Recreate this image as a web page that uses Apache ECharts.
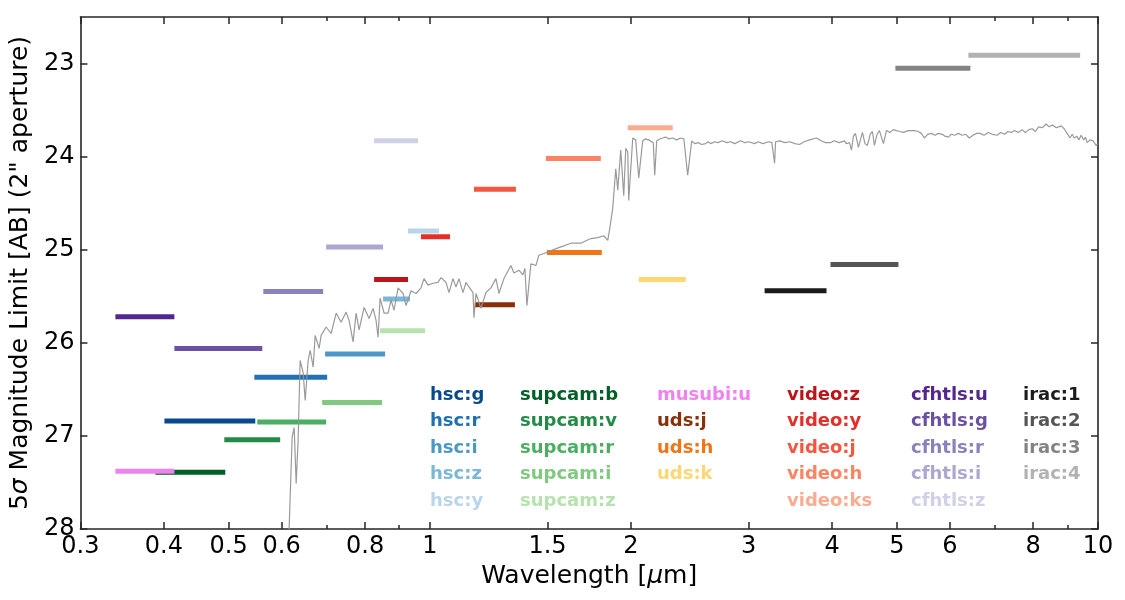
<!DOCTYPE html>
<html><head><meta charset="utf-8">
<script src="https://cdn.jsdelivr.net/npm/echarts@6/dist/echarts.min.js"></script>
<style>html,body{margin:0;padding:0;background:#fff}#chart{width:1125px;height:600px}</style>
</head><body><div id="chart"></div>
<script>
// ---------------- data ----------------
const filterNames = ['hsc:g','hsc:r','hsc:i','hsc:z','hsc:y',
  'supcam:b','supcam:v','supcam:r','supcam:i','supcam:z',
  'musubi:u','uds:j','uds:h','uds:k',
  'video:z','video:y','video:j','video:h','video:ks',
  'cfhtls:u','cfhtls:g','cfhtls:r','cfhtls:i','cfhtls:z',
  'irac:1','irac:2','irac:3','irac:4'];
const filterMinWave = [0.4007,0.5462,0.6971,0.8512,0.9277,
  0.3884,0.4925,0.5518,0.6900,0.8425,
  0.3384,1.1683,1.4968,2.0543,
  0.8253,0.9701,1.1643,1.4916,1.9780,
  0.3384,0.4147,0.5634,0.6996,0.8253,
  3.1699,3.9780,4.9752,6.3976];
const filterMaxWave = [0.5480,0.7020,0.8571,0.9341,1.0322,
  0.4942,0.5971,0.6996,0.8483,0.9836,
  0.4147,1.3408,1.8087,2.4151,
  0.9277,1.0720,1.3454,1.8025,2.3094,
  0.4147,0.5614,0.6924,0.8512,0.9602,
  3.9237,5.0269,6.4418,9.4037];
const filterDepth = [26.84,26.37,26.12,25.53,24.80,
  27.39,27.04,26.85,26.64,25.87,
  27.38,25.59,25.03,25.32,
  25.32,24.86,24.35,24.02,23.69,
  25.72,26.06,25.45,24.97,23.83,
  25.44,25.16,23.05,22.91];

const specWave = [0.6100,0.6159,0.6223,0.6266,0.6309,0.6352,0.6396,0.6463,0.6508,0.6575,0.6621,0.6690,0.6736,0.6829,0.6876,0.6996,
  0.7117,0.7241,0.7366,0.7494,0.7572,0.7677,0.7757,0.7837,0.7973,0.8112,0.8224,0.8309,0.8367,0.8425,0.8541,0.8660,0.8749,0.8840,
  0.8963,0.9118,0.9213,0.9373,0.9536,0.9701,0.9802,0.9938,1.0111,1.0286,1.0393,1.0573,1.0683,1.0831,1.0943,1.1057,1.1211,1.1327,
  1.1444,1.1603,1.1643,1.1724,1.1927,1.2134,1.2345,1.2559,1.2690,1.2910,1.3225,1.3362,1.3594,1.3782,1.3877,1.3973,1.4167,1.4413,
  1.4562,1.4815,1.5176,1.5707,1.6257,1.6826,1.7415,1.7839,1.8212,1.8464,1.8592,1.8785,1.8980,1.9111,1.9309,1.9509,1.9644,1.9780,
  1.9848,2.0123,2.0332,2.0543,2.0828,2.1000,2.1263,2.1410,2.1600,2.1706,2.1856,2.2100,2.2300,2.2544,2.2800,2.3094,2.3400,2.3739,
  2.4000,2.4151,2.4318,2.4655,2.4900,2.5255,2.5500,2.5870,2.6100,2.6319,2.6700,2.7000,2.7400,2.7812,2.8200,2.8600,2.9186,2.9600,
  3.0000,3.0627,3.1000,3.1500,3.2136,3.2500,3.2808,3.2922,3.3400,3.4000,3.4545,3.5200,3.5754,3.6300,3.7000,3.7911,3.8500,3.9100,
  3.9780,4.0300,4.1000,4.1742,4.2000,4.2465,4.2759,4.3050,4.3350,4.3800,4.4406,4.4800,4.5177,4.5600,4.5963,4.6281,4.6700,4.7085,
  4.7739,4.8234,4.8800,4.9400,4.9923,5.0500,5.1141,5.2000,5.3109,5.3800,5.4402,5.4966,5.5600,5.6300,5.7000,5.7678,5.8500,5.9000,
  5.9697,6.0300,6.1000,6.1800,6.2640,6.3400,6.4167,6.5000,6.5800,6.6645,6.7500,6.8500,6.9500,7.0659,7.1500,7.2500,7.3300,7.4145,
  7.5000,7.6000,7.7000,7.7829,7.8800,7.9722,8.0600,8.1500,8.2500,8.3655,8.4500,8.5500,8.6586,8.7300,8.8086,8.9000,8.9925,9.0800,
  9.1500,9.2118,9.3000,9.3600,9.4362,9.5200,9.5800,9.6330,9.7300,9.8343,9.9363,10.000];
const specMag = [28.60,27.98,27.01,26.91,27.51,27.05,26.19,26.32,26.62,26.19,26.08,26.26,25.92,26.06,25.92,25.83,
  25.90,25.68,25.78,25.67,25.76,25.99,25.68,25.86,25.62,25.74,25.63,25.76,25.94,25.52,25.68,25.68,25.54,25.65,
  25.41,25.47,25.60,25.44,25.47,25.41,25.31,25.38,25.36,25.35,25.30,25.35,25.46,25.31,25.40,25.31,25.46,25.35,
  25.40,25.46,25.73,25.47,25.63,25.46,25.41,25.31,25.47,25.31,25.17,25.25,25.22,25.27,25.20,25.60,25.15,25.17,
  25.06,25.04,25.01,24.97,24.93,24.93,24.88,24.87,24.85,24.90,24.77,24.55,24.13,24.36,23.93,24.42,23.91,23.95,
  24.47,23.80,23.82,24.23,23.83,23.81,23.82,23.83,23.85,24.20,23.83,23.81,23.80,23.79,23.81,23.80,23.82,23.80,
  23.81,23.83,24.20,23.83,23.86,23.85,23.87,23.86,23.84,23.86,23.84,23.85,23.83,23.85,23.84,23.86,23.83,23.85,
  23.84,23.86,23.84,23.86,23.84,23.85,24.07,23.84,23.83,23.85,23.84,23.86,23.87,23.84,23.82,23.80,23.83,23.85,
  23.85,23.83,23.85,23.83,23.86,23.85,23.93,23.78,23.75,23.90,23.74,23.86,23.88,23.76,23.73,23.88,23.76,23.72,
  23.86,23.72,23.74,23.71,23.72,23.73,23.74,23.72,23.72,23.73,23.75,23.80,23.76,23.75,23.77,23.75,23.76,23.78,
  23.79,23.76,23.77,23.75,23.77,23.76,23.80,23.77,23.75,23.75,23.77,23.74,23.76,23.77,23.74,23.76,23.73,23.74,
  23.72,23.74,23.71,23.74,23.71,23.70,23.73,23.68,23.69,23.65,23.68,23.66,23.69,23.68,23.67,23.70,23.75,23.80,
  23.76,23.80,23.78,23.82,23.77,23.82,23.79,23.85,23.82,23.83,23.88,23.86];

const xMajorTicks = [0.3,0.4,0.5,0.6,0.8,1,1.5,2,3,4,5,6,8,10];
const xMinorTicks = [0.7,0.9,7,9];
const yTicks = [23,24,25,26,27,28];
const legendColumns = [
  ['hsc:g','hsc:r','hsc:i','hsc:z','hsc:y'],
  ['supcam:b','supcam:v','supcam:r','supcam:i','supcam:z'],
  ['musubi:u','uds:j','uds:h','uds:k'],
  ['video:z','video:y','video:j','video:h','video:ks'],
  ['cfhtls:u','cfhtls:g','cfhtls:r','cfhtls:i','cfhtls:z'],
  ['irac:1','irac:2','irac:3','irac:4']
];

// ---------------- styles ----------------
const filterColors = ['#08488e','#2070b4','#4a98c9','#7cb7da','#b9d5ea',
  '#005e27','#238b45','#4bae62','#80c97f','#b6e2ae',
  '#ee82ee','#88300a','#ee7518','#fed672',
  '#bb151a','#e32f27','#f5563f','#fc8464','#fcab8e',
  '#54278f','#6b51a3','#8683bd','#aaa8d0','#d0d1e6',
  '#1b1b1b','#555555','#838383','#b2b2b2'];
const legendLeft = [430,520,657,787,911,1023];
const FONT = 'DejaVu Sans';
const AXIS_COLOR = '#262626';

const colorOf = {};
filterNames.forEach((n,i)=>colorOf[n]=filterColors[i]);

const fmt = v => String(parseFloat(Number(v).toPrecision(4)));

function xAxisDef(pos, ticks, len, withLabels, withLine){
  return {
    type:'log', logBase:10, min:0.3, max:10, position:pos,
    axisLine:{show:withLine, onZero:false, lineStyle:{color:AXIS_COLOR,width:1.6}},
    axisTick:{show:true, inside:true, length:len, customValues:ticks, lineStyle:{color:AXIS_COLOR,width:1.5}},
    axisLabel:{show:withLabels, customValues:ticks, formatter:fmt, margin:6,
      color:'#000', fontFamily:FONT, fontSize:24},
    splitLine:{show:false}, minorTick:{show:false}, minorSplitLine:{show:false},
    name: withLabels ? 'Wavelength [{i|μ}m]' : '',
    nameLocation:'middle', nameGap:34,
    nameTextStyle:{color:'#000', fontFamily:FONT, fontSize:25,
      rich:{i:{fontStyle:'italic', fontFamily:FONT, fontSize:25, color:'#000'}}}
  };
}
function yAxisDef(pos, withLabels){
  return {
    type:'value', inverse:true, min:22.5, max:28, position:pos,
    axisLine:{show:true, onZero:false, lineStyle:{color:AXIS_COLOR,width:1.6}},
    axisTick:{show:true, inside:true, length:7, customValues:yTicks, lineStyle:{color:AXIS_COLOR,width:1.5}},
    axisLabel:{show:withLabels, customValues:yTicks, margin:6, color:'#000', fontFamily:FONT, fontSize:24},
    splitLine:{show:false},
    name: withLabels ? '5{i|σ} Magnitude Limit [AB] (2" aperture)' : '',
    nameLocation:'middle', nameGap:30, nameRotate:90,
    nameTextStyle:{color:'#000', fontFamily:FONT, fontSize:25,
      rich:{i:{fontStyle:'italic', fontFamily:FONT, fontSize:25, color:'#000'}}}
  };
}

const series = filterNames.map((n,i)=>({
  name:n, type:'line', xAxisIndex:0, yAxisIndex:0,
  data:[[filterMinWave[i], filterDepth[i]],[filterMaxWave[i], filterDepth[i]]],
  showSymbol:false, symbol:'none', silent:true, animation:false, z:2,
  lineStyle:{color:filterColors[i], width:5, cap:'butt'},
  itemStyle:{color:filterColors[i]}
}));
series.push({
  name:'spectrum', type:'line', xAxisIndex:0, yAxisIndex:0,
  data: specWave.map((w,i)=>[w, specMag[i]]),
  showSymbol:false, symbol:'none', silent:true, animation:false, z:5, clip:true,
  lineStyle:{color:'#959595', width:1.2, opacity:0.95}
});

const legends = legendColumns.map((col,ci)=>({
  orient:'vertical', left:legendLeft[ci]-5, top:386, padding:0,
  itemWidth:0, itemHeight:18, itemGap:8.5, icon:'none', selectedMode:false,
  data: col.map(n=>({name:n, icon:'none', textStyle:{color:colorOf[n]}})),
  textStyle:{fontFamily:FONT, fontWeight:'bold', fontSize:18, lineHeight:18}
}));

const chart = echarts.init(document.getElementById('chart'), null, {renderer:'canvas'});
chart.setOption({
  animation:false,
  backgroundColor:'#fff',
  grid:{left:79, top:17, width:1019, height:512, containLabel:false},
  xAxis:[
    xAxisDef('bottom', xMajorTicks, 7, true, true),
    xAxisDef('bottom', xMinorTicks, 4, false, false),
    xAxisDef('top', xMajorTicks, 7, false, true),
    xAxisDef('top', xMinorTicks, 4, false, false)
  ],
  yAxis:[ yAxisDef('left', true), yAxisDef('right', false) ],
  legend: legends,
  series: series
});
</script></body></html>
